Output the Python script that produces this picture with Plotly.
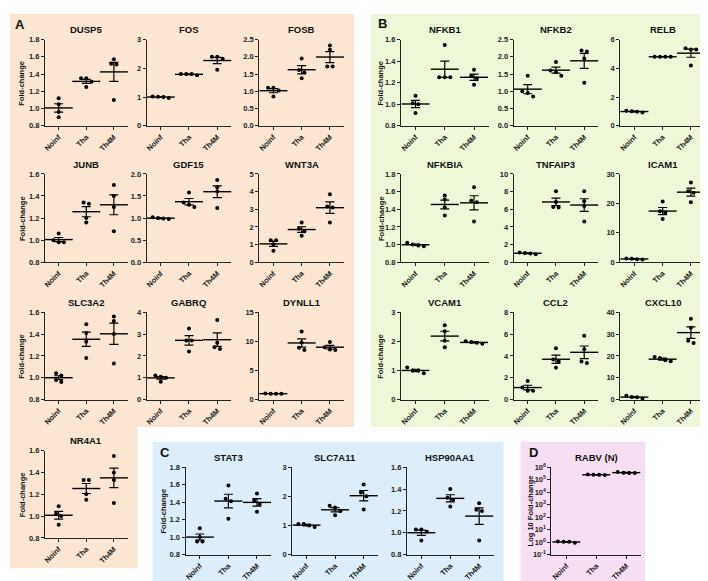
import numpy as np
import plotly.graph_objects as go

W, H = 708, 581
groups = ["Noinf", "Tha", "Th4M"]

# ---- data (Noinf, Tha, Th4M replicates) ----
dusp5 = [[1.12, 1.05, 0.96, 0.90], [1.35, 1.35, 1.31, 1.25], [1.57, 1.52, 1.51, 1.10]]
fos = [[0.97, 1.00, 1.01, 1.02], [1.76, 1.80, 1.80, 1.80], [2.40, 2.40, 2.33, 1.95]]
fosb = [[1.10, 1.10, 1.02, 0.85], [1.95, 1.62, 1.55, 1.38], [2.33, 2.20, 1.72, 1.72]]
junb = [[1.06, 1.00, 0.98, 0.98], [1.34, 1.33, 1.20, 1.16], [1.50, 1.40, 1.30, 1.08]]
gdf15 = [[1.02, 1.00, 0.99, 0.98], [1.58, 1.35, 1.30, 1.25], [1.86, 1.70, 1.60, 1.23]]
wnt3a = [[1.25, 1.25, 1.00, 0.65], [2.25, 1.90, 1.75, 1.50], [3.85, 3.15, 3.10, 2.25]]
slc3a2 = [[1.04, 1.02, 0.98, 0.96], [1.49, 1.41, 1.33, 1.18], [1.56, 1.52, 1.40, 1.13]]
gabrq = [[1.10, 1.05, 1.00, 0.82], [3.25, 2.70, 2.70, 2.20], [3.65, 2.60, 2.40, 2.32]]
dynll1 = [[1.00, 1.00, 1.05, 1.00], [11.7, 9.8, 8.9, 8.5], [9.9, 9.0, 8.6, 8.5]]
nr4a1 = [[1.09, 1.02, 1.00, 0.92], [1.33, 1.33, 1.20, 1.15], [1.55, 1.40, 1.33, 1.12]]
nfkb1 = [[1.08, 1.01, 1.00, 0.92], [1.55, 1.25, 1.25, 1.25], [1.32, 1.26, 1.24, 1.18]]
nfkb2 = [[1.45, 1.00, 0.95, 0.85], [1.85, 1.60, 1.55, 1.45], [2.18, 2.15, 1.95, 1.25]]
relb = [[1.05, 1.02, 0.98, 0.92], [4.80, 4.80, 4.80, 4.80], [5.40, 5.30, 5.30, 4.20]]
nfkbia = [[1.02, 1.00, 0.99, 0.98], [1.556, 1.51, 1.42, 1.33], [1.65, 1.50, 1.48, 1.26]]
tnfaip3 = [[0.90, 1.00, 1.05, 1.10], [8.03, 6.81, 6.26, 6.19], [8.03, 6.90, 6.37, 4.60]]
icam1 = [[0.90, 1.20, 1.30, 1.00], [20.6, 17.3, 16.9, 14.7], [27.1, 24.1, 23.6, 20.4]]
vcam1 = [[1.10, 1.00, 1.00, 0.90], [2.55, 2.35, 2.02, 1.80], [2.00, 1.98, 1.95, 1.92]]
ccl2 = [[1.70, 1.10, 0.80, 0.80], [4.70, 3.66, 3.51, 2.91], [5.85, 4.62, 3.48, 3.36]]
cxcl10 = [[0.5, 1.0, 1.2, 1.8], [19.5, 19.0, 18.0, 17.5], [37.0, 32.9, 26.9, 25.9]]
stat3 = [[1.10, 1.00, 0.95, 0.95], [1.59, 1.44, 1.41, 1.21], [1.50, 1.42, 1.38, 1.29]]
slc7a11 = [[1.05, 1.05, 1.00, 0.95], [1.68, 1.62, 1.50, 1.35], [2.41, 2.13, 2.00, 1.55]]
hsp90aa1 = [[1.03, 1.03, 1.01, 0.93], [1.40, 1.32, 1.30, 1.24], [1.27, 1.21, 1.20, 0.93]]
rabv = [[0.9, 1.05, 1.05, 1.1], [2.4e5, 2.5e5, 2.5e5, 2.6e5], [3.5e5, 4.2e5, 3.6e5, 3.5e5]]

# ---- layout geometry (pixels)
A1 = (35, 118); A2 = (137, 222); A3 = (250, 335)
B1 = (392, 480); B2 = (505, 590); B3 = (612, 697)
R1 = (26, 114); R2 = (163, 253); R3 = (304, 393); R4 = (445, 534); RC = (462, 551)

panels = [
    ("DUSP5", dusp5, [0.8, 1.8], 0.2, ".1f", A1, R1, 12),
    ("FOS", fos, [0, 3], 1, "d", A2, R1, None),
    ("FOSB", fosb, [0, 2.5], 0.5, ".1f", A3, R1, None),
    ("JUNB", junb, [0.8, 1.6], 0.2, ".1f", A1, R2, 12),
    ("GDF15", gdf15, [0, 2.0], 0.5, ".1f", A2, R2, None),
    ("WNT3A", wnt3a, [0, 5], 1, "d", A3, R2, None),
    ("SLC3A2", slc3a2, [0.8, 1.6], 0.2, ".1f", A1, R3, 12),
    ("GABRQ", gabrq, [0, 4], 1, "d", A2, R3, None),
    ("DYNLL1", dynll1, [0, 15], 5, "d", A3, R3, None),
    ("NR4A1", nr4a1, [0.8, 1.6], 0.2, ".1f", A1, R4, 12),
    ("NFKB1", nfkb1, [0.8, 1.6], 0.2, ".1f", B1, R1, 372),
    ("NFKB2", nfkb2, [0, 2.5], 0.5, ".1f", B2, R1, None),
    ("RELB", relb, [0, 6], 2, "d", B3, R1, None),
    ("NFKBIA", nfkbia, [0.8, 1.8], 0.2, ".1f", B1, R2, 372),
    ("TNFAIP3", tnfaip3, [0, 10], 2, "d", B2, R2, None),
    ("ICAM1", icam1, [0, 30], 10, "d", B3, R2, None),
    ("VCAM1", vcam1, [0, 3], 1, "d", B1, R3, 372),
    ("CCL2", ccl2, [0, 8], 2, "d", B2, R3, None),
    ("CXCL10", cxcl10, [0, 40], 10, "d", B3, R3, None),
    ("STAT3", stat3, [0.8, 1.8], 0.2, ".1f", (176, 262), RC, 154),
    ("SLC7A11", slc7a11, [0, 3], 1, "d", (283, 369), RC, None),
    ("HSP90AA1", hsp90aa1, [0.8, 1.6], 0.2, ".1f", (398, 485), RC, None),
    ("RABV (N)", rabv, "log", None, None, (543, 633), RC, 522),
]

FONT = "Liberation Sans, Arial, sans-serif"


def px(x):
    return x / W


def py(y):
    return 1 - y / H


def spread(vals, span, thr=0.045, step=0.19):
    vals = np.asarray(vals, dtype=float)
    order = np.argsort(-vals)
    clusters = []
    for i in order:
        if clusters and abs(vals[clusters[-1][-1]] - vals[i]) < thr * span:
            clusters[-1].append(i)
        else:
            clusters.append([i])
    off = np.zeros(len(vals))
    for c in clusters:
        n = len(c)
        for k, i in enumerate(c):
            off[i] = (k - (n - 1) / 2) * step
    return off


fig = go.Figure()
shapes = []
annotations = []

bg = [
    (0, 0, 345, 421, "#FBE6D3"),
    (0, 421, 128, 565, "#FBE6D3"),
    (362, 0, 708, 421, "#EEF8D9"),
    (143, 436, 495, 579, "#DDEEFA"),
    (512, 436, 637, 579, "#F7DFF3"),
]
for x0, y0, x1, y1, c in bg:
    shapes.append(dict(type="rect", xref="paper", yref="paper", x0=px(x0), x1=px(x1),
                       y0=py(y1), y1=py(y0), fillcolor=c, line=dict(width=0), layer="below"))

tickfont = dict(family=FONT, size=7.5, color="#222", weight="bold")
layout_axes = {}
for idx, (name, data, yr, dt, fmt, (L, R), (T, B), ytx) in enumerate(panels, start=1):
    xa = "x" if idx == 1 else f"x{idx}"
    ya = "y" if idx == 1 else f"y{idx}"
    is_log = yr == "log"
    xs, ys = [], []
    for g, vals in enumerate(data):
        if is_log:
            off = spread(np.log10(vals), 7)
        else:
            off = spread(vals, yr[1] - yr[0])
        xs += list(g + 1 + off)
        ys += list(vals)
    means = [float(np.mean(v)) for v in data]
    sems = [float(np.std(v, ddof=1) / np.sqrt(len(v))) for v in data]
    fig.add_trace(go.Scatter(x=xs, y=ys, mode="markers", xaxis=xa, yaxis=ya,
                             marker=dict(size=4, color="black"), cliponaxis=False,
                             showlegend=False, hoverinfo="skip"))
    fig.add_trace(go.Scatter(x=[1, 2, 3], y=means, mode="markers", xaxis=xa, yaxis=ya,
                             marker=dict(symbol="line-ew", size=20, color="black",
                                         line=dict(width=1.4, color="black")),
                             error_y=dict(type="data", array=sems, visible=True, width=4.5,
                                          thickness=1.2, color="black"),
                             cliponaxis=False, showlegend=False, hoverinfo="skip"))
    xk = "xaxis" if idx == 1 else f"xaxis{idx}"
    yk = "yaxis" if idx == 1 else f"yaxis{idx}"
    layout_axes[xk] = dict(domain=[px(L), px(R)], anchor=ya, range=[0.5, 3.5],
                           tickmode="array", tickvals=[1, 2, 3], ticktext=groups,
                           tickangle=-45, showticklabels=True, tickfont=tickfont,
                           showline=True, linecolor="#222", linewidth=1, ticks="outside",
                           ticklen=3, tickcolor="#222", showgrid=False,
                           zeroline=False, fixedrange=True)
    if is_log:
        tv = [10.0 ** k for k in range(-1, 7)]
        tt = [f"10<sup>{k}</sup>" for k in range(-1, 7)]
        layout_axes[yk] = dict(domain=[py(B), py(T)], anchor=xa, type="log", range=[-1, 6],
                               tickmode="array", tickvals=tv, ticktext=tt, showline=True,
                               linecolor="#222", linewidth=1, ticks="outside", ticklen=3,
                               tickcolor="#222", tickfont=tickfont, showgrid=False,
                               zeroline=False, fixedrange=True)
    else:
        layout_axes[yk] = dict(domain=[py(B), py(T)], anchor=xa, range=yr, dtick=dt,
                               tick0=yr[0], tickformat=fmt, showline=True, linecolor="#222",
                               linewidth=1, ticks="outside", ticklen=3, tickcolor="#222",
                               tickfont=tickfont, showgrid=False, zeroline=False,
                               fixedrange=True)
    annotations.append(dict(text=name, x=px((L + R) / 2), y=py(T - 10), xref="paper",
                            yref="paper", showarrow=False, xanchor="center", yanchor="middle",
                            font=dict(family=FONT, size=9.5, color="#111", weight="bold")))
    if ytx is not None:
        annotations.append(dict(text="Log 10 Fold-change" if is_log else "Fold-change",
                                x=px(ytx), y=py((T + B) / 2), xref="paper", yref="paper",
                                showarrow=False, textangle=-90, xanchor="center",
                                yanchor="middle",
                                font=dict(family=FONT, size=7.5, color="#111", weight="bold")))

for letter, lx, ly in [("A", 3, 11), ("B", 367, 10), ("C", 148, 447), ("D", 518, 447)]:
    annotations.append(dict(text=letter, x=px(lx), y=py(ly), xref="paper", yref="paper",
                            showarrow=False, xanchor="left", yanchor="middle",
                            font=dict(family=FONT, size=13, color="#111", weight="bold")))

fig.update_layout(width=W, height=H, margin=dict(l=0, r=0, t=0, b=0),
                  paper_bgcolor="white", plot_bgcolor="rgba(0,0,0,0)",
                  shapes=shapes, annotations=annotations, showlegend=False,
                  **layout_axes)

fig.write_html("out.html")
